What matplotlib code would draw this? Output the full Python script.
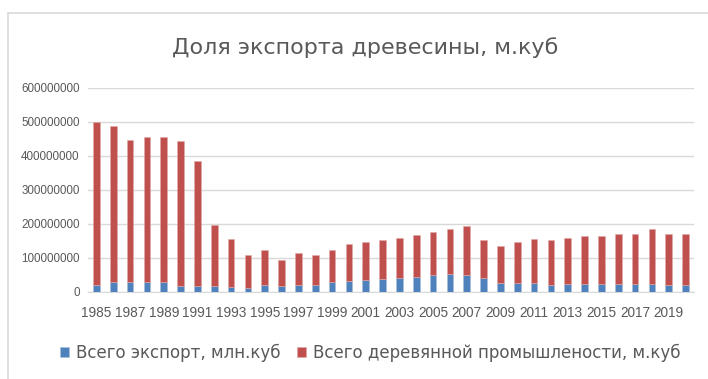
import matplotlib.pyplot as plt
import numpy as np
from matplotlib.patches import Rectangle

years = list(range(1985, 2021))
# экспорт (нижняя часть столбца) и деревянная промышленность (верхняя часть)
export = [22e6, 28e6, 28e6, 28e6, 28e6, 18e6, 18e6, 18e6, 14e6, 12e6,
          20e6, 18e6, 20e6, 20e6, 28e6, 31e6, 34e6, 37e6, 40e6, 43e6,
          51e6, 54e6, 51e6, 40e6, 25e6, 25e6, 25e6, 20e6, 24e6, 24e6,
          24e6, 24e6, 24e6, 24e6, 20e6, 20e6]
industry = [478e6, 459e6, 417e6, 426e6, 426e6, 425e6, 366e6, 179e6, 141e6, 98e6,
            104e6, 75e6, 96e6, 90e6, 96e6, 110e6, 113e6, 116e6, 118e6, 124e6,
            124e6, 130e6, 143e6, 113e6, 110e6, 122e6, 131e6, 133e6, 134e6, 140e6,
            140e6, 146e6, 146e6, 162e6, 150e6, 150e6]

gray = '#595959'
fig = plt.figure(figsize=(7.08, 3.79), dpi=100)
fig.patches.append(Rectangle((8 / 708, -0.1), 1.1, 1 - 13 / 379 + 0.1,
                             transform=fig.transFigure, fill=False,
                             edgecolor='#D9D9D9', linewidth=1.2))

ax = fig.add_axes([88 / 708, 87 / 379, 606 / 708, 204.3 / 379])
x = np.arange(len(years))
ax.bar(x, export, width=0.4, color='#4F81BD', edgecolor='#A7C0DE', linewidth=0.4,
       label='Всего экспорт, млн.куб', zorder=3)
ax.bar(x, industry, width=0.4, bottom=export, color='#C0504D', edgecolor='#E0A8A6',
       linewidth=0.4, label='Всего деревянной промышлености, м.куб', zorder=3)

ax.set_xlim(-0.5, len(years) - 0.5)
ax.set_ylim(0, 600e6)
ax.set_yticks(np.arange(0, 600e6 + 1, 100e6))
ax.set_yticklabels([f'{int(v)}' for v in np.arange(0, 600e6 + 1, 100e6)],
                   family=['Liberation Sans', 'DejaVu Sans'], fontsize=8.4, color=gray)
ax.set_xticks(x[::2])
ax.set_xticklabels([str(y) for y in years[::2]],
                   family=['Liberation Sans', 'DejaVu Sans'], fontsize=9.8, color=gray)
ax.tick_params(length=0, pad=6)
ax.tick_params(axis='x', pad=10)
ax.grid(axis='y', color='#D9D9D9', linewidth=1, zorder=0)
for s in ['top', 'right', 'left']:
    ax.spines[s].set_visible(False)
ax.spines['bottom'].set_color('#D9D9D9')

fig.text(365 / 708, 1 - 48 / 379, 'Доля экспорта древесины, м.куб', ha='center', va='center',
         fontsize=16, color=gray)
leg = fig.legend(loc='center', bbox_to_anchor=(370 / 708, 1 - 353 / 379), ncol=2, frameon=False,
                 fontsize=12, handlelength=0.55, handleheight=0.55, handletextpad=0.4,
                 columnspacing=1.0)
for t in leg.get_texts():
    t.set_color(gray)

fig.savefig('out.png', dpi=100)
